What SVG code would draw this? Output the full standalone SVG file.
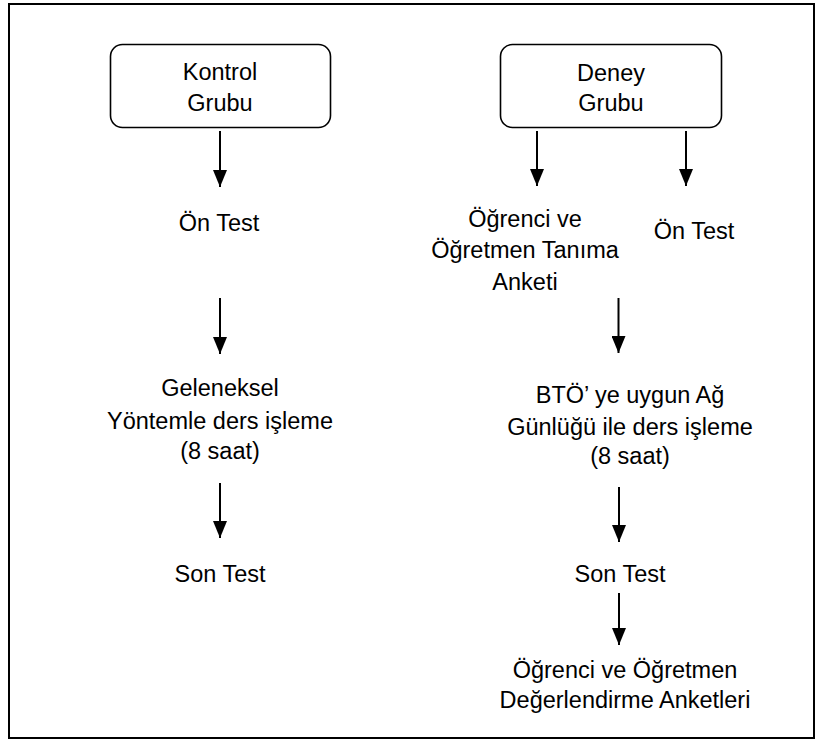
<svg xmlns="http://www.w3.org/2000/svg" width="825" height="742" viewBox="0 0 825 742">
<style>
text{font-family:"Liberation Sans",Arial,sans-serif;font-size:23.5px;fill:#000;text-anchor:middle}
.box{fill:#fff;stroke:#000;stroke-width:1.6}
.arr{stroke:#000;stroke-width:2;fill:none;marker-end:url(#ah)}
</style>
<defs>
<marker id="ah" markerUnits="userSpaceOnUse" markerWidth="17" markerHeight="14" refX="17" refY="7" orient="auto">
<path d="M0,0 L17,7 L0,14 z" fill="#000"/>
</marker>
</defs>
<rect x="9" y="4" width="805" height="734" fill="#fff" stroke="#000" stroke-width="2"/>
<g id="connectors">
<line class="arr" x1="220" y1="131" x2="220" y2="187"/>
<line class="arr" x1="220" y1="298" x2="220" y2="354"/>
<line class="arr" x1="220" y1="483" x2="220" y2="538"/>
<line class="arr" x1="537" y1="131" x2="537" y2="186"/>
<line class="arr" x1="686" y1="131" x2="686" y2="186"/>
<line class="arr" x1="618.5" y1="298" x2="618.5" y2="353"/>
<line class="arr" x1="619" y1="487" x2="619" y2="542"/>
<line class="arr" x1="619" y1="593" x2="619" y2="645"/>
</g>
<g id="kontrol">
<rect class="box" x="110.5" y="44.5" width="220" height="83" rx="12"/>
<text x="220" y="80">Kontrol</text>
<text x="220" y="111">Grubu</text>
</g>
<g id="deney">
<rect class="box" x="500.5" y="44.5" width="221" height="83" rx="12"/>
<text x="611" y="81">Deney</text>
<text x="611" y="111">Grubu</text>
</g>
<g id="k-ontest"><text x="219" y="231">Ön Test</text></g>
<g id="k-geleneksel">
<text x="220" y="396">Geleneksel</text>
<text x="220" y="429">Yöntemle ders işleme</text>
<text x="220" y="459">(8 saat)</text>
</g>
<g id="k-sontest"><text x="220" y="582">Son Test</text></g>
<g id="d-tanima">
<text x="525" y="227">Öğrenci ve</text>
<text x="525" y="258">Öğretmen Tanıma</text>
<text x="525" y="290">Anketi</text>
</g>
<g id="d-ontest"><text x="694" y="239">Ön Test</text></g>
<g id="d-btoe">
<text x="630" y="403">BTÖ’ ye uygun Ağ</text>
<text x="630" y="435">Günlüğü ile ders işleme</text>
<text x="630" y="464">(8 saat)</text>
</g>
<g id="d-sontest"><text x="620" y="582">Son Test</text></g>
<g id="d-degerlendirme">
<text x="625" y="678">Öğrenci ve Öğretmen</text>
<text x="625" y="708">Değerlendirme Anketleri</text>
</g>
</svg>
